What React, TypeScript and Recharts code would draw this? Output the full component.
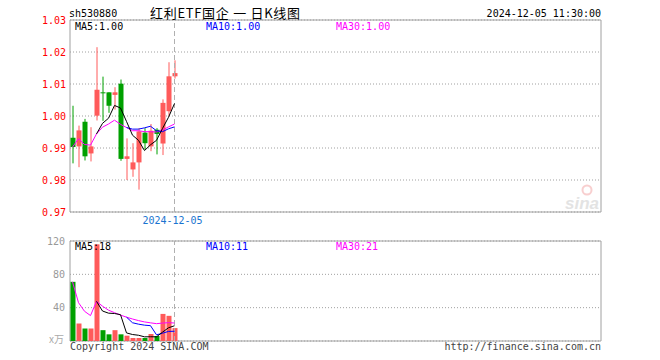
import React from 'react';
import {
  ComposedChart,
  Bar,
  Line,
  XAxis,
  YAxis,
  CartesianGrid,
  ReferenceLine,
  ReferenceArea,
  Cell,
} from 'recharts';

// ---------- data ----------
const dates = [
  '2024-11-12', '2024-11-13', '2024-11-14', '2024-11-15', '2024-11-18', '2024-11-19',
  '2024-11-20', '2024-11-21', '2024-11-22', '2024-11-25', '2024-11-26', '2024-11-27',
  '2024-11-28', '2024-11-29', '2024-12-02', '2024-12-03', '2024-12-04', '2024-12-05',
];
const openP = [0.9932, 0.9905, 0.9982, 0.9883, 1.0001, 1.0074, 1.0074, 1.0066, 1.0101, 0.9866, 0.9833, 0.9855, 0.9948, 0.9905, 0.9957, 0.9914, 1.0015, 1.0124];
const highP = [1.0032, 0.9970, 0.9991, 0.9965, 1.0215, 1.0123, 1.0074, 1.0090, 1.0114, 0.9930, 0.9915, 0.9962, 0.9962, 0.9975, 0.9962, 1.0052, 1.0168, 1.0174];
const lowP = [0.9852, 0.9840, 0.9861, 0.9858, 0.9986, 0.9985, 1.0010, 1.0020, 0.9860, 0.9800, 0.9810, 0.9770, 0.9895, 0.9890, 0.9880, 0.9878, 0.9999, 1.0117];
const closeP = [0.9903, 0.9955, 0.9874, 0.9905, 1.0082, 1.0071, 1.0032, 1.0074, 0.9866, 0.9874, 0.9855, 0.9952, 0.9915, 0.9954, 0.9944, 1.0041, 1.0124, 1.0134];
const ma5 = [null, null, null, null, 0.9944, 0.9977, 0.9993, 1.0033, 1.0025, 0.9983, 0.994, 0.9924, 0.9892, 0.991, 0.9924, 0.9961, 0.9996, 1.0039];
const ma10 = [null, null, null, null, null, null, null, null, null, 0.9964, 0.9959, 0.9959, 0.9963, 0.9968, 0.9954, 0.9951, 0.996, 0.9966];
const ma30 = [0.9903, 0.9929, 0.9911, 0.9909, 0.9944, 0.9965, 0.9975, 0.9987, 0.9974, 0.9964, 0.9954, 0.9954, 0.9951, 0.9951, 0.995, 0.9956, 0.9966, 0.9975];

const volume = [71, 21, 15, 15, 116, 13, 8, 13, 8, 6.4, 3.6, 3.6, 3.6, 8.4, 6, 32.5, 30.2, 15.5];
const vma5 = [null, null, null, null, 47.6, 36, 33.4, 33, 31.6, 9.7, 7.8, 6.9, 5.0, 5.1, 5.0, 10.6, 15.9, 18.3];
const vma10 = [null, null, null, null, null, null, null, null, null, 28.6, 21.9, 20.2, 19.0, 18.4, 7.4, 9.3, 11.5, 11.7];
const vma30 = [71, 46, 35.7, 30.5, 47.6, 41.8, 37, 34, 31.1, 28.6, 26.4, 24.5, 22.9, 21.8, 20.8, 21.5, 22.0, 21.6];

const priceTicks = [0.97, 0.98, 0.99, 1.0, 1.01, 1.02, 1.03];
const volTicks = [0, 40, 80, 120];

const stockCode = 'sh530880';
const title = '红利ETF国企 一 日K线图';
const stamp = '2024-12-05 11:30:00';
const priceLegend = ['MA5:1.00', 'MA10:1.00', 'MA30:1.00'];
const volLegend = ['MA5:18', 'MA10:11', 'MA30:21'];
const volUnit = 'x万';
const copyright = 'Copyright 2024 SINA.COM';
const siteUrl = 'http://finance.sina.com.cn';

// ---------- styles ----------
const RED = '#ff5a5a';
const GREEN = '#00a000';
const GRID = '#a0a0a0';
const MONO = '"DejaVu Sans Mono", "Liberation Mono", monospace';
const SLOTS = 88.5;
const XDOMAIN: [number, number] = [-2.5 / 6, SLOTS - 2.5 / 6];

const rows = dates.map((d, i) => ({
  idx: i,
  date: d,
  range: [lowP[i], highP[i]],
  open: openP[i],
  high: highP[i],
  low: lowP[i],
  close: closeP[i],
  ma5: ma5[i],
  ma10: ma10[i],
  ma30: ma30[i],
  vol: volume[i],
  vma5: vma5[i],
  vma10: vma10[i],
  vma30: vma30[i],
}));

const Candle = (props: any) => {
  const { x, y, width, height, payload } = props;
  if (!payload || x == null || y == null) return null;
  const { open, close, high, low } = payload;
  const up = close >= open;
  const color = up ? RED : GREEN;
  const span = high - low || 1e-9;
  const py = (v: number) => y + ((high - v) / span) * height;
  const cx = x + width / 2;
  const top = py(Math.max(open, close));
  const bot = py(Math.min(open, close));
  const bh = Math.max(1, bot - top);
  return (
    <g>
      <line x1={cx} x2={cx} y1={y} y2={y + height} stroke={color} strokeWidth={1} />
      <rect x={cx - 2.5} y={top} width={5} height={bh} fill={color} />
    </g>
  );
};

const PriceTick = (p: any) => (
  <text x={p.x} y={p.y} dy="0.355em" textAnchor="end" fill="#ff0000" fontSize={10} fontFamily={MONO}>
    {Number(p.payload.value).toFixed(2)}
  </text>
);

const VolTick = (p: any) =>
  p.payload.value === 0 ? null : (
    <text x={p.x} y={p.y} dy="0.355em" textAnchor="end" fill="#999999" fontSize={10} fontFamily={MONO}>
      {String(p.payload.value)}
    </text>
  );

const DateTick = (p: any) => (
  <text x={p.x - 2} y={p.y} dy="0.71em" textAnchor="middle" fill="#1a74d0" fontSize={10} fontFamily={MONO}>
    {dates[p.payload.value] ?? ''}
  </text>
);

const txt = { fontFamily: MONO, fontSize: 10 } as const;

export default function App() {
  const lastIdx = rows.length - 1;
  return (
    <div style={{ position: 'absolute', left: 0, top: 0, width: 660, height: 360, background: '#fff' }}>
      {/* price panel */}
      <div style={{ position: 'absolute', left: 0, top: 0 }}>
        <ComposedChart width={660} height={232} data={rows} margin={{ top: 20, right: 59, bottom: 0, left: 0 }}>
          <CartesianGrid vertical={false} stroke={GRID} strokeDasharray="1 2" />
          <XAxis
            type="number"
            dataKey="idx"
            domain={XDOMAIN}
            allowDataOverflow
            ticks={[lastIdx]}
            axisLine={false}
            tickLine={false}
            tickSize={0}
            tickMargin={5}
            height={20}
            tick={<DateTick />}
          />
          <YAxis
            type="number"
            domain={[0.97, 1.03]}
            ticks={priceTicks}
            width={70}
            axisLine={false}
            tickLine={false}
            tickSize={0}
            tickMargin={4}
            tick={<PriceTick />}
            allowDataOverflow
          />
          <ReferenceArea x1={XDOMAIN[0]} x2={XDOMAIN[1]} y1={0.97} y2={1.03} fill="none" stroke={GRID} strokeWidth={1} />
          <ReferenceLine x={lastIdx} stroke="#b0b0b0" strokeDasharray="5 3" />
          <Bar dataKey="range" barSize={5} shape={<Candle />} isAnimationActive={false} />
          <Line type="linear" dataKey="ma30" stroke="#ff00ff" strokeWidth={1} dot={false} isAnimationActive={false} />
          <Line type="linear" dataKey="ma10" stroke="#0000ff" strokeWidth={1} dot={false} isAnimationActive={false} />
          <Line type="linear" dataKey="ma5" stroke="#000000" strokeWidth={1} dot={false} isAnimationActive={false} />
        </ComposedChart>
      </div>

      {/* volume panel */}
      <div style={{ position: 'absolute', left: 0, top: 221 }}>
        <ComposedChart width={660} height={139} data={rows} margin={{ top: 20, right: 59, bottom: 19, left: 0 }}>
          <CartesianGrid vertical={false} stroke={GRID} strokeDasharray="1 2" />
          <XAxis type="number" dataKey="idx" domain={XDOMAIN} allowDataOverflow hide />
          <YAxis
            type="number"
            domain={[0, 120]}
            ticks={volTicks}
            width={70}
            axisLine={false}
            tickLine={false}
            tickSize={0}
            tickMargin={5}
            tick={<VolTick />}
            allowDataOverflow
          />
          <ReferenceArea x1={XDOMAIN[0]} x2={XDOMAIN[1]} y1={0} y2={120} fill="none" stroke={GRID} strokeWidth={1} />
          <ReferenceLine x={lastIdx} stroke="#b0b0b0" strokeDasharray="5 3" />
          <Bar dataKey="vol" barSize={5} isAnimationActive={false}>
            {rows.map((r, i) => (
              <Cell key={i} fill={r.close >= r.open ? RED : GREEN} />
            ))}
          </Bar>
          <Line type="linear" dataKey="vma30" stroke="#ff00ff" strokeWidth={1} dot={false} isAnimationActive={false} />
          <Line type="linear" dataKey="vma10" stroke="#0000ff" strokeWidth={1} dot={false} isAnimationActive={false} />
          <Line type="linear" dataKey="vma5" stroke="#000000" strokeWidth={1} dot={false} isAnimationActive={false} />
        </ComposedChart>
      </div>

      {/* texts */}
      <svg width={660} height={360} style={{ position: 'absolute', left: 0, top: 0, pointerEvents: 'none' }}>
        <text x={69} y={17} {...txt} fill="#000">{stockCode}</text>
        <text x={150} y={18} fontFamily='"Noto Sans CJK SC", sans-serif' fontSize={13} letterSpacing={0.7} fill="#000" style={{ whiteSpace: 'pre' }}>{title}</text>
        <text x={601} y={17} {...txt} fill="#000" textAnchor="end">{stamp}</text>

        <text x={75} y={30} {...txt} fill="#000">{priceLegend[0]}</text>
        <text x={206} y={30} {...txt} fill="#0000ff">{priceLegend[1]}</text>
        <text x={336} y={30} {...txt} fill="#ff00ff">{priceLegend[2]}</text>

        <text x={75} y={250} {...txt} fill="#000">{volLegend[0]}</text>
        <text x={206} y={250} {...txt} fill="#0000ff">{volLegend[1]}</text>
        <text x={336} y={250} {...txt} fill="#ff00ff">{volLegend[2]}</text>

        <text x={64} y={343} fontFamily='"Noto Sans CJK SC", sans-serif' fontSize={10} fill="#aaa" textAnchor="end">{volUnit}</text>
        <text x={70} y={350} {...txt} fill="#444">{copyright}</text>
        <text x={601} y={350} {...txt} fill="#444" textAnchor="end">{siteUrl}</text>

        <g opacity={0.5}>
          <circle cx={587} cy={190} r={4.5} fill="none" stroke="#f3a0a0" strokeWidth={2} />
          <text x={599} y={209} fontFamily='"Liberation Sans", sans-serif' fontSize={17} fontStyle="italic" fontWeight="bold" fill="#c8c8c8" textAnchor="end">sina</text>
        </g>
      </svg>
    </div>
  );
}
